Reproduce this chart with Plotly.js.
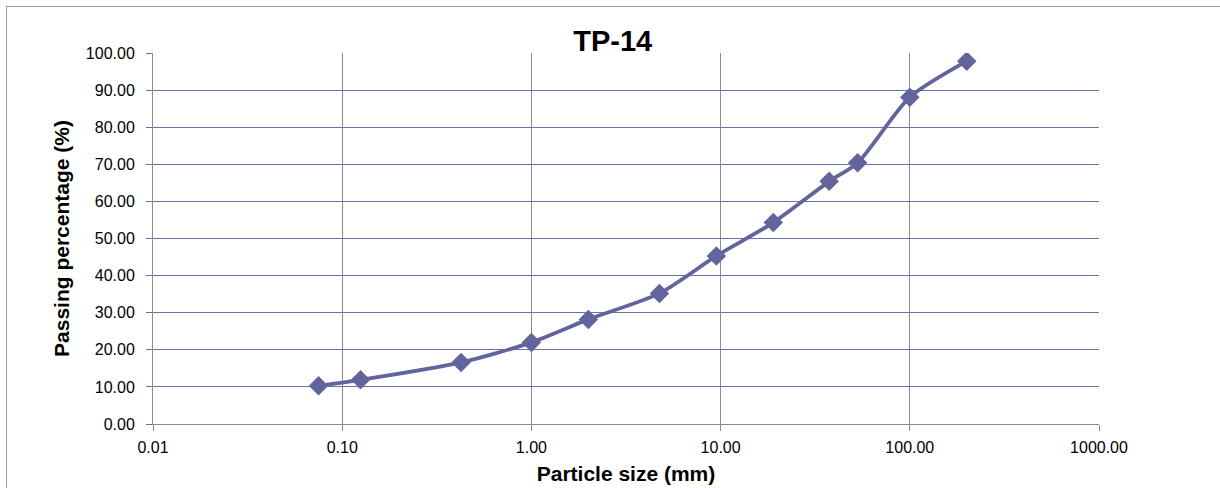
<!DOCTYPE html>
<html>
<head>
<meta charset="utf-8">
<script src="https://cdn.plot.ly/plotly-3.0.1.min.js"></script>
<style>
html,body{margin:0;padding:0;background:#fff;overflow:hidden;}
#frame{position:absolute;left:6px;top:6px;width:1400px;height:700px;border:1.5px solid #9a9a9a;box-sizing:border-box;}
#chart{position:absolute;left:0;top:0;width:1220px;height:488px;}
</style>
</head>
<body>
<div id="frame"></div>
<div id="chart"></div>
<script>
const particleSize = [0.075, 0.125, 0.425, 1.0, 2.0, 4.75, 9.5, 19, 37.5, 53, 100, 200];
const passingPct = [10.3, 11.9, 16.6, 22.0, 28.2, 35.2, 45.3, 54.3, 65.4, 70.4, 88.1, 97.8];
const xTickVals = [0.01, 0.1, 1, 10, 100, 1000];
const xTickText = ['0.01', '0.10', '1.00', '10.00', '100.00', '1000.00'];
const yTickVals = [0, 10, 20, 30, 40, 50, 60, 70, 80, 90, 100];
const yTickText = yTickVals.map(v => v.toFixed(2));

const FONT = "'Liberation Sans', Arial, sans-serif";

const trace = {
  x: particleSize,
  y: passingPct,
  type: 'scatter',
  mode: 'lines+markers',
  line: {color: '#62649e', width: 3.8, shape: 'spline', smoothing: 0.7},
  marker: {symbol: 'diamond', size: 15, color: '#62649e'},
  showlegend: false,
  hoverinfo: 'x+y'
};

const layout = {
  width: 1220, height: 488,
  margin: {l: 153, r: 121, t: 53, b: 64},
  paper_bgcolor: 'rgba(0,0,0,0)',
  plot_bgcolor: '#ffffff',
  font: {family: FONT},
  title: {
    text: '<b>TP-14</b>',
    font: {family: FONT, size: 29, color: '#000'},
    x: 0.486, xref: 'paper', xanchor: 'center',
    y: 1, yref: 'paper', yanchor: 'bottom', pad: {b: 2}
  },
  xaxis: {
    type: 'log',
    range: [-2, 3],
    tickmode: 'array', tickvals: xTickVals, ticktext: xTickText,
    showgrid: true, gridcolor: '#8c8c8c', gridwidth: 1,
    showline: true, linecolor: '#8c8c8c', linewidth: 1,
    ticks: 'outside', ticklen: 6, tickcolor: '#8c8c8c',
    ticklabelstandoff: 3,
    tickfont: {family: FONT, size: 16, color: '#000'},
    title: {text: '<b>Particle size (mm)</b>', font: {family: FONT, size: 21, color: '#000'}, standoff: 11},
    zeroline: false, fixedrange: true
  },
  yaxis: {
    range: [0, 100],
    tickmode: 'array', tickvals: yTickVals, ticktext: yTickText,
    showgrid: true, gridcolor: '#6e6ea6', gridwidth: 1,
    showline: true, linecolor: '#8c8c8c', linewidth: 1,
    ticks: 'outside', ticklen: 6, tickcolor: '#6e6ea6',
    ticklabelstandoff: 8,
    tickfont: {family: FONT, size: 16, color: '#000'},
    title: {text: '<b>Passing percentage (%)</b>', font: {family: FONT, size: 21, color: '#000'}, standoff: 10},
    zeroline: false, fixedrange: true
  }
};

Plotly.newPlot('chart', [trace], layout, {displayModeBar: false, staticPlot: true});
</script>
</body>
</html>
